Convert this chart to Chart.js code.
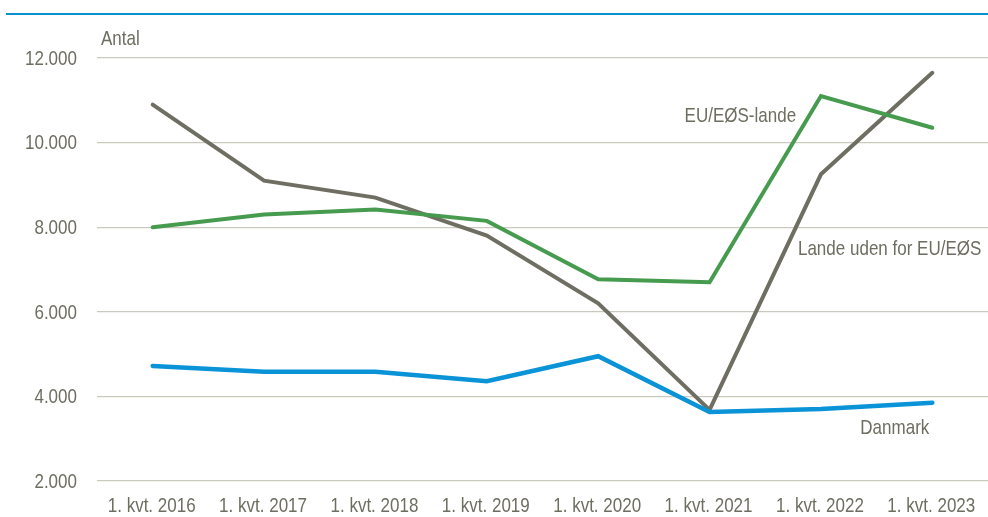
<!DOCTYPE html>
<html>
<head>
<meta charset="utf-8">
<script src="https://cdn.jsdelivr.net/npm/chart.js@4.4.1/dist/chart.umd.min.js"></script>
<style>
  html, body { margin: 0; padding: 0; background: #fff; }
  #wrap { position: relative; width: 988px; height: 517px; }
</style>
</head>
<body>
<div id="wrap"><canvas id="chart"></canvas></div>
<script>
/* data */
const categories = ['1. kvt. 2016', '1. kvt. 2017', '1. kvt. 2018', '1. kvt. 2019',
                    '1. kvt. 2020', '1. kvt. 2021', '1. kvt. 2022', '1. kvt. 2023'];
const landeUdenfor = [10900, 9100, 8700, 7800, 6200, 3680, 9250, 11650];
const euEos       = [8000, 8300, 8420, 8150, 6770, 6700, 11100, 10350];
const danmark     = [4720, 4580, 4580, 4360, 4950, 3630, 3700, 3850];
const yTicks = [2000, 4000, 6000, 8000, 10000, 12000];

// no narrow font installed, so the text is squeezed horizontally by hand
const FONT = "'Liberation Sans', Arial, sans-serif";
const SQUEEZE = 0.81;
const TEXT = '#6d6d60';
const GRAY = '#6f6e62';
const GREEN = '#469b4f';
const BLUE = '#0a93d7';

const fmt = v => v.toLocaleString('da-DK');

/* series labels placed next to the lines, in data units + pixel nudge */
const seriesLabels = [
    { text: 'EU/EØS-lande', cat: 5, dx: -25, value: 10630 },
    { text: 'Lande uden for EU/EØS', cat: 6, dx: -23, value: 7485 },
    { text: 'Danmark', cat: 7, dx: -72, value: 3250 }
];

function narrowText(ctx, text, x, y, align) {
    const w = ctx.measureText(text).width * SQUEEZE;
    let left = x;
    if (align === 'right') left = x - w;
    else if (align === 'center') left = x - w / 2;
    ctx.save();
    ctx.translate(left, y);
    ctx.scale(SQUEEZE, 1);
    ctx.textAlign = 'left';
    ctx.fillText(text, 0, 0);
    ctx.restore();
}

const textPlugin = {
    id: 'textPlugin',
    afterDraw(chart) {
        const { ctx, chartArea, scales } = chart;
        ctx.save();
        // blue rule at the top
        ctx.fillStyle = '#0a8fd0';
        ctx.fillRect(6, 13, 982, 2);

        ctx.font = '21px ' + FONT;
        ctx.fillStyle = TEXT;
        ctx.textBaseline = 'middle';

        // axis labels from the scales' own ticks
        scales.y.ticks.forEach((t, i) => {
            narrowText(ctx, fmt(t.value), chartArea.left - 20, scales.y.getPixelForTick(i) + 1, 'right');
        });
        scales.x.ticks.forEach((t, i) => {
            narrowText(ctx, categories[t.value], scales.x.getPixelForTick(i) - 1, chartArea.bottom + 25, 'center');
        });

        narrowText(ctx, 'Antal', chartArea.left + 4, chartArea.top - 19, 'left');
        seriesLabels.forEach(l => {
            narrowText(ctx, l.text, scales.x.getPixelForValue(l.cat) + l.dx, scales.y.getPixelForValue(l.value), 'left');
        });
        ctx.restore();
    }
};

const ds = (label, data, color, width) => ({
    label, data,
    borderColor: color,
    backgroundColor: color,
    borderWidth: width,
    pointRadius: 0,
    tension: 0,
    borderCapStyle: 'round',
    borderJoinStyle: 'miter'
});

new Chart(document.getElementById('chart'), {
    type: 'line',
    data: {
        labels: categories,
        datasets: [
            ds('Danmark', danmark, BLUE, 4.5),
            ds('EU/EØS-lande', euEos, GREEN, 4),
            ds('Lande uden for EU/EØS', landeUdenfor, GRAY, 4)
        ]
    },
    options: {
        responsive: true,
        maintainAspectRatio: false,
        animation: false,
        layout: { padding: { top: 58, right: 0, bottom: 0, left: 0 } },
        scales: {
            x: {
                offset: true,
                grid: { display: false, drawTicks: false },
                border: { display: false },
                ticks: { display: false, autoSkip: false },
                afterFit: s => { s.height = 36; }
            },
            y: {
                min: 2000,
                max: 12000,
                afterBuildTicks: s => { s.ticks = yTicks.map(v => ({ value: v })); },
                grid: { color: '#c9c9bd', lineWidth: 1.3, drawTicks: false },
                border: { display: false },
                ticks: { display: false },
                afterFit: s => { s.width = 97; }
            }
        },
        plugins: {
            legend: { display: false },
            tooltip: { enabled: false }
        }
    },
    plugins: [textPlugin]
});
</script>
</body>
</html>
